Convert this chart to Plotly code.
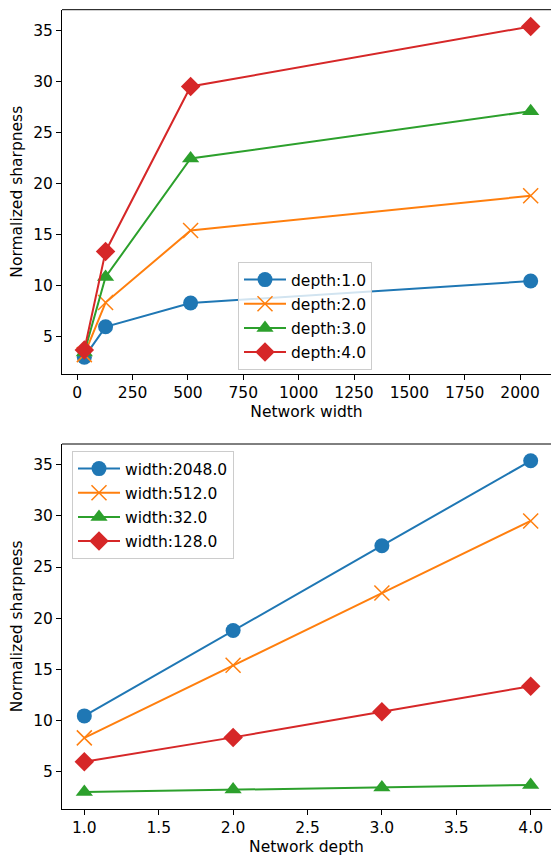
import plotly.graph_objects as go

widths = [32, 128, 512, 2048]
depths = [1.0, 2.0, 3.0, 4.0]

# sharpness[depth] over widths (top panel)
depth1 = [3.0, 5.97, 8.3, 10.45]
depth2 = [3.25, 8.35, 15.4, 18.8]
depth3 = [3.45, 10.85, 22.45, 27.08]
depth4 = [3.7, 13.35, 29.5, 35.38]

# bottom panel series (over depths), legend order as in reference
width_labels = ["width:2048.0", "width:512.0", "width:32.0", "width:128.0"]
w2048 = [10.45, 18.8, 27.08, 35.38]
w512 = [8.3, 15.4, 22.45, 29.5]
w32 = [3.0, 3.25, 3.45, 3.7]
w128 = [5.97, 8.35, 10.85, 13.35]

depth_labels = ["depth:1.0", "depth:2.0", "depth:3.0", "depth:4.0"]

colors = ["#1f77b4", "#ff7f0e", "#2ca02c", "#d62728"]
symbols = ["circle", "x-thin", "triangle-up", "diamond"]
sizes = [15, 15, 15, 15]

FONT = "DejaVu Sans"
FS = 15.5
W, H = 551, 856

fig = go.Figure()

def marker(i):
    m = dict(symbol=symbols[i], size=sizes[i], color=colors[i])
    if symbols[i] == "x-thin":
        m["line"] = dict(color=colors[i], width=1.5)
    else:
        m["line"] = dict(width=0)
    return m

for i, (lab, ys) in enumerate(zip(depth_labels, [depth1, depth2, depth3, depth4])):
    fig.add_trace(go.Scatter(x=widths, y=ys, mode="lines+markers", name=lab,
                             line=dict(color=colors[i], width=2), marker=marker(i),
                             xaxis="x", yaxis="y", legend="legend",
                             legendgroup="a%d" % i))

for i, (lab, ys) in enumerate(zip(width_labels, [w2048, w512, w32, w128])):
    fig.add_trace(go.Scatter(x=depths, y=ys, mode="lines+markers", name=lab,
                             line=dict(color=colors[i], width=2), marker=marker(i),
                             xaxis="x2", yaxis="y2", legend="legend2",
                             legendgroup="b%d" % i))

left = 62
right = W
top_t, top_b = 9.7, 373.7
bot_t, bot_b = 444.0, 808.7

xd = [left / W, 1.0]
yd1 = [1 - top_b / H, 1 - top_t / H]
yd2 = [1 - bot_b / H, 1 - bot_t / H]

# x ranges: matplotlib autoscale margins, right side cropped at figure edge
x1_lo, x1_hi = -68.8, 2148.8
px_per_unit1 = (553 - left) / (x1_hi - x1_lo)
x1_hi_vis = x1_lo + (right - left) / px_per_unit1
x2_lo, x2_hi = 0.85, 4.15
px_per_unit2 = (553 - left) / (x2_hi - x2_lo)
x2_hi_vis = x2_lo + (right - left) / px_per_unit2

axis_common = dict(showline=True, linecolor="black", linewidth=1, ticks="outside",
                   ticklen=5, tickwidth=1, tickcolor="black", showgrid=False,
                   zeroline=False, mirror=False,
                   tickfont=dict(family=FONT, size=FS, color="black"),
                   automargin=False)

tfont = dict(family=FONT, size=FS, color="black")
legend_common = dict(xanchor="left", yanchor="top",
                     bgcolor="rgba(255,255,255,0.8)", bordercolor="#cccccc", borderwidth=1,
                     font=dict(family=FONT, size=FS, color="black"),
                     tracegroupgap=1, itemwidth=42)

fig.update_layout(
    width=W, height=H,
    margin=dict(l=0, r=0, t=0, b=0),
    paper_bgcolor="white", plot_bgcolor="white",
    font=dict(family=FONT, size=FS, color="black"),
    xaxis=dict(domain=xd, range=[x1_lo, x1_hi_vis], anchor="y",
               tickvals=[0, 250, 500, 750, 1000, 1250, 1500, 1750, 2000],
               title=dict(text="Network width", standoff=4, font=tfont),
               **axis_common),
    yaxis=dict(domain=yd1, range=[1.38, 37.02], anchor="x",
               tickvals=[5, 10, 15, 20, 25, 30, 35],
               title=dict(text="Normalized sharpness", standoff=6, font=tfont),
               **axis_common),
    xaxis2=dict(domain=xd, range=[x2_lo, x2_hi_vis], anchor="y2",
                tickvals=[1.0, 1.5, 2.0, 2.5, 3.0, 3.5, 4.0], tickformat=".1f",
                title=dict(text="Network depth", standoff=4, font=tfont),
                **axis_common),
    yaxis2=dict(domain=yd2, range=[1.38, 37.02], anchor="x2",
                tickvals=[5, 10, 15, 20, 25, 30, 35],
                title=dict(text="Normalized sharpness", standoff=6, font=tfont),
                **axis_common),
    legend=dict(x=238 / W, y=1 - 262 / H, **legend_common),
    legend2=dict(x=72 / W, y=1 - 451 / H, **legend_common),
    showlegend=True,
)

# top spines
for xr, yr in [("x domain", "y domain"), ("x2 domain", "y2 domain")]:
    fig.add_shape(type="line", xref=xr, yref=yr, x0=0, x1=1, y0=1, y1=1,
                  line=dict(color="black", width=1))

fig.write_html("out.html",
               config={"displayModeBar": False},
               post_script="document.body.style.margin='0px';document.body.style.overflow='hidden';")
